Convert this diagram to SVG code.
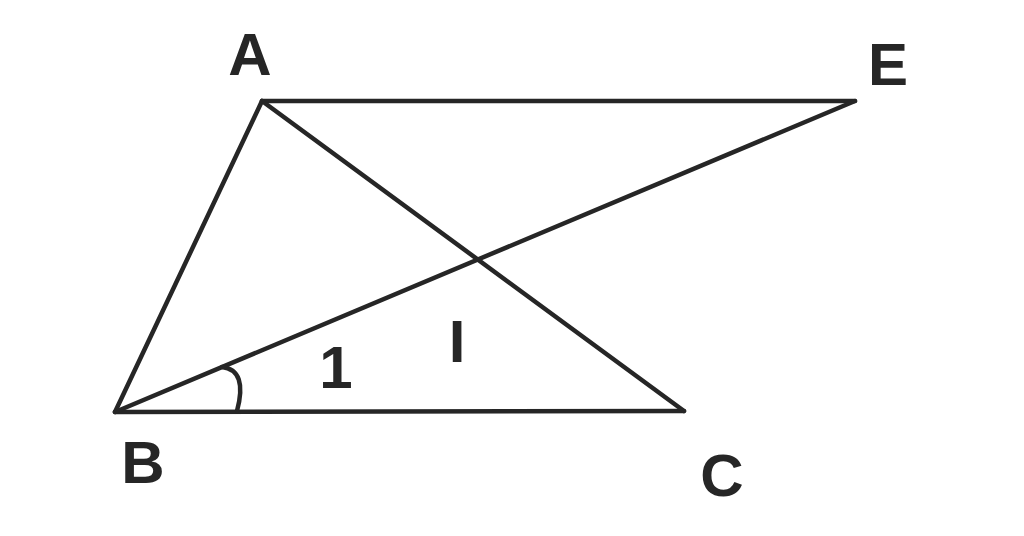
<svg xmlns="http://www.w3.org/2000/svg" width="1024" height="536" viewBox="0 0 1024 536">
<style>
.l{stroke:#262626;stroke-width:4.5;fill:none;stroke-linecap:round;stroke-linejoin:round}
.t{font-family:"Liberation Sans",Arial,sans-serif;font-weight:bold;font-size:60px;fill:#262626}
</style>
<rect width="1024" height="536" fill="#fff"/>
<g id="connectors">
<path class="l" d="M262,101 L855,101"/>
<path class="l" d="M262,101 L115,412"/>
<path class="l" d="M115,412 L684,411"/>
<path class="l" d="M262,101 L684,411"/>
<path class="l" d="M115,412 L855,101"/>
<path class="l" d="M222,367 Q248,370 237,411"/>
</g>
<g id="A"><text class="t" x="250" y="75" text-anchor="middle">A</text></g>
<g id="E"><text class="t" x="888" y="85" text-anchor="middle">E</text></g>
<g id="B"><text class="t" x="143" y="483" text-anchor="middle">B</text></g>
<g id="C"><text class="t" x="722" y="496" text-anchor="middle">C</text></g>
<g id="angle1"><text class="t" x="336" y="388" text-anchor="middle">1</text></g>
<g id="markI"><text class="t" x="457" y="362" text-anchor="middle">I</text></g>
</svg>
